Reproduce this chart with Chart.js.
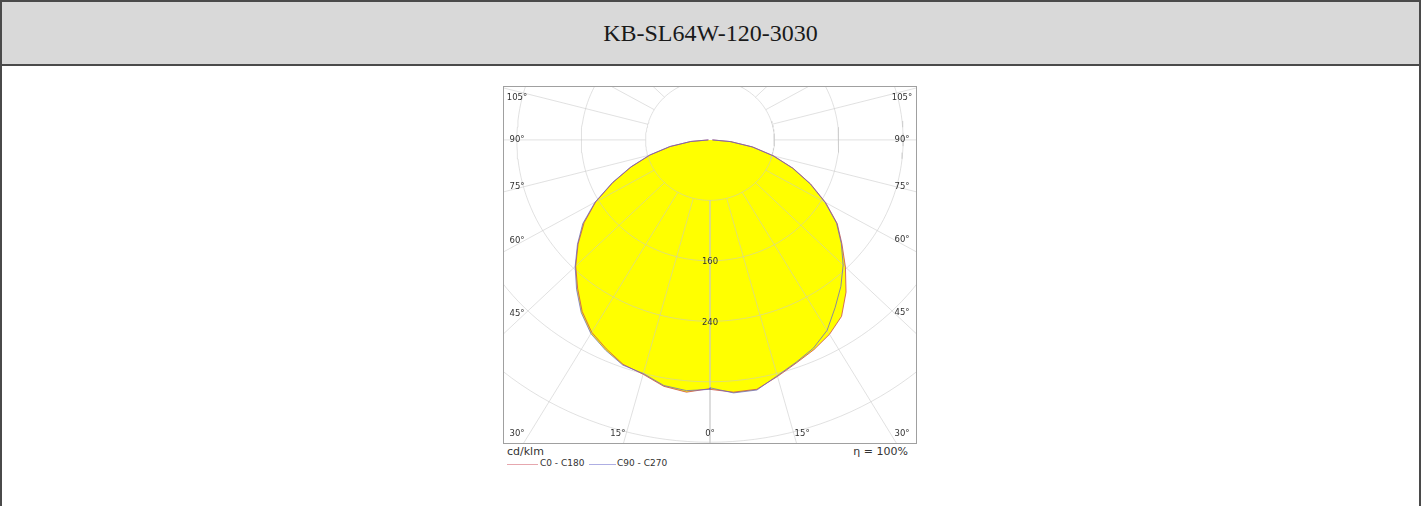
<!DOCTYPE html>
<html>
<head>
<meta charset="utf-8">
<title>KB-SL64W-120-3030</title>
<script src="https://cdn.jsdelivr.net/npm/chart.js@4/dist/chart.umd.min.js"></script>
<style>
    body { margin: 0; width: 1421px; height: 506px; background: #fff; overflow: hidden; }
    #frame {
        position: absolute; left: 0; top: 0; width: 1421px; height: 520px;
        box-sizing: border-box; border: 2px solid #4a4a4a;
    }
    #head {
        position: absolute; left: 0; top: 0; right: 0; height: 62px;
        background: #d9d9d9; border-bottom: 2px solid #4a4a4a;
        font: 24px "Liberation Serif", "Times New Roman", serif; color: #1a1a1a;
        line-height: 62px; text-align: center;
    }
    #plot {
        position: absolute; left: 503px; top: 86px; width: 412px; height: 356px;
        border: 1px solid #a0a0a0;
    }
    .txt { position: absolute; font-family: "DejaVu Sans", Verdana, sans-serif; color: #333; white-space: nowrap; }
    .key { position: absolute; height: 1px; }
</style>
</head>
<body>
<div id="frame">
    <div id="head">KB-SL64W-120-3030</div>
</div>
<div id="plot"><canvas id="polar" width="412" height="356"></canvas></div>
<div class="txt" style="left:507px; top:445px; font-size:11px;">cd/klm</div>
<div class="txt" style="right:513px; top:445px; font-size:11px;">&eta; = 100%</div>
<div class="key" id="key0" style="left:507px; top:464px; width:31px;"></div>
<div class="txt" style="left:540px; top:458px; font-size:9px;">C0 - C180</div>
<div class="key" id="key1" style="left:589px; top:464px; width:27px;"></div>
<div class="txt" style="left:617px; top:458px; font-size:9px;">C90 - C270</div>
<script>
// Luminous intensity (cd/klm), gamma 0..90 deg (zero above)
const gammaAngles = [0, 5, 10, 15, 20, 25, 30, 35, 40, 45, 50, 55, 60, 65, 70, 75, 80, 85, 90];
const c0   = [330, 335, 335, 324, 314, 306, 297, 285, 263, 238, 214, 193, 166, 138, 110, 82, 54, 26, 3];
const c180 = [329, 335, 331, 321, 316, 305, 294, 277, 256, 236, 214, 191, 164, 133, 104, 77, 50, 24, 2];
const c90  = [328, 336, 336, 323, 313, 304, 291, 271, 253, 234, 213, 192, 165, 137, 109, 81, 53, 25, 3];
const c270 = [330, 333, 330, 320, 317, 307, 296, 279, 258, 237, 215, 193, 165, 134, 105, 78, 51, 24, 2];

// Grid: rings every 80 cd/klm, spokes every 15 deg
const ringValues = [80, 160, 240, 320, 400, 480];
const ringLabels = [160, 240];
const spokeAngles = [0, 15, 30, 45, 60, 75, 90, 105, 120, 135, 150, 165, 180];
const angleLabels = [0, 15, 30, 45, 60, 75, 90, 105];

// visible window of the diagram (cd/klm)
const X_MIN = -256, X_MAX = 256, Y_MIN = -401, Y_MAX = 70;

const colC0 = 'rgba(205, 85, 85, 0.85)';
const colC90 = 'rgba(100, 100, 205, 0.75)';
document.getElementById('key0').style.background = 'rgba(220, 130, 140, 0.7)';
document.getElementById('key1').style.background = 'rgba(140, 140, 215, 0.7)';

const rad = d => d * Math.PI / 180;

// closed curve: right half (gamma 90 -> 0) then left half (0 -> 90)
function curve(right, left) {
    const pts = [];
    for (let i = gammaAngles.length - 1; i >= 0; i--) {
        const g = rad(gammaAngles[i]);
        pts.push({x: right[i] * Math.sin(g), y: -right[i] * Math.cos(g)});
    }
    for (let i = 0; i < gammaAngles.length; i++) {
        const g = rad(gammaAngles[i]);
        pts.push({x: -left[i] * Math.sin(g), y: -left[i] * Math.cos(g)});
    }
    return pts;
}

function gridPoints() {
    const pts = [];
    ringValues.forEach(r => {
        for (let a = 0; a < 360; a += 2) {
            pts.push({x: r * Math.sin(rad(a)), y: r * Math.cos(rad(a))});
        }
        pts.push({x: 0, y: r});
        pts.push({x: NaN, y: NaN});
    });
    spokeAngles.forEach(a => {
        // 0 and 180 lie on the axis: draw them once
        const sides = (a === 0 || a === 180) ? [1] : [-1, 1];
        sides.forEach(side => {
            const s = side * Math.sin(rad(a)), c = -Math.cos(rad(a));
            pts.push({x: ringValues[0] * s, y: ringValues[0] * c});
            pts.push({x: 700 * s, y: 700 * c});
            pts.push({x: NaN, y: NaN});
        });
    });
    return pts;
}

// angle and ring labels
const polarLabels = {
    id: 'polarLabels',
    afterDatasetsDraw(chart) {
        const {ctx, chartArea: a, scales: {x, y}} = chart;
        const cx = x.getPixelForValue(0), cy = y.getPixelForValue(0);
        ctx.save();
        ctx.font = '8.5px "DejaVu Sans"';
        ctx.fillStyle = '#333';
        ctx.textAlign = 'center';
        ctx.textBaseline = 'middle';
        ringLabels.forEach(v => ctx.fillText(String(v), cx, y.getPixelForValue(-v) + 1));
        const box = {l: a.left + 13, r: a.right - 14, t: a.top + 11, b: a.bottom - 9.5};
        angleLabels.forEach(g => {
            [-1, 1].forEach(side => {
                if (g === 0 && side < 0) return;
                const dx = x.getPixelForValue(side * Math.sin(rad(g)) * 100) - cx;
                const dy = y.getPixelForValue(-Math.cos(rad(g)) * 100) - cy;
                const tx = Math.abs(dx) > 0.01 ? ((dx > 0 ? box.r : box.l) - cx) / dx : Infinity;
                const ty = dy > 0.01 ? (box.b - cy) / dy : Infinity;
                let px, py;
                if (tx <= ty) { px = cx + dx * tx; py = cy + dy * tx * 0.96; }
                else { py = box.b; px = cx + dx * ty * 1.1; }
                px = Math.min(box.r, Math.max(box.l, px));
                py = Math.min(box.b, Math.max(box.t, py));
                ctx.fillText(g + '\u00b0', px, py);
            });
        });
        ctx.restore();
    }
};

const ctx = document.getElementById('polar').getContext('2d');
window.polarChart = new Chart(ctx, {
    type: 'scatter',
    data: {
        datasets: [{
            label: 'C0 - C180',
            data: curve(c0, c180),
            showLine: true,
            fill: 'shape',
            backgroundColor: '#ffff00',
            borderColor: colC0,
            borderWidth: 1,
            pointRadius: 0,
            order: 1
        }, {
            label: 'C90 - C270',
            data: curve(c90, c270),
            showLine: true,
            fill: 'shape',
            backgroundColor: '#ffff00',
            borderColor: colC90,
            borderWidth: 1,
            pointRadius: 0,
            order: 0
        }, {
            label: 'grid',
            data: gridPoints(),
            showLine: true,
            spanGaps: false,
            fill: false,
            borderColor: 'rgba(200, 200, 200, 0.55)',
            borderWidth: 1,
            pointRadius: 0,
            order: 2
        }]
    },
    options: {
        responsive: false,
        animation: false,
        layout: { padding: 0 },
        scales: {
            x: { type: 'linear', min: X_MIN, max: X_MAX, display: false },
            y: { type: 'linear', min: Y_MIN, max: Y_MAX, display: false }
        },
        plugins: {
            legend: { display: false },
            tooltip: { enabled: false },
            filler: { drawTime: 'beforeDatasetsDraw' }
        }
    },
    plugins: [polarLabels]
});
</script>
</body>
</html>
